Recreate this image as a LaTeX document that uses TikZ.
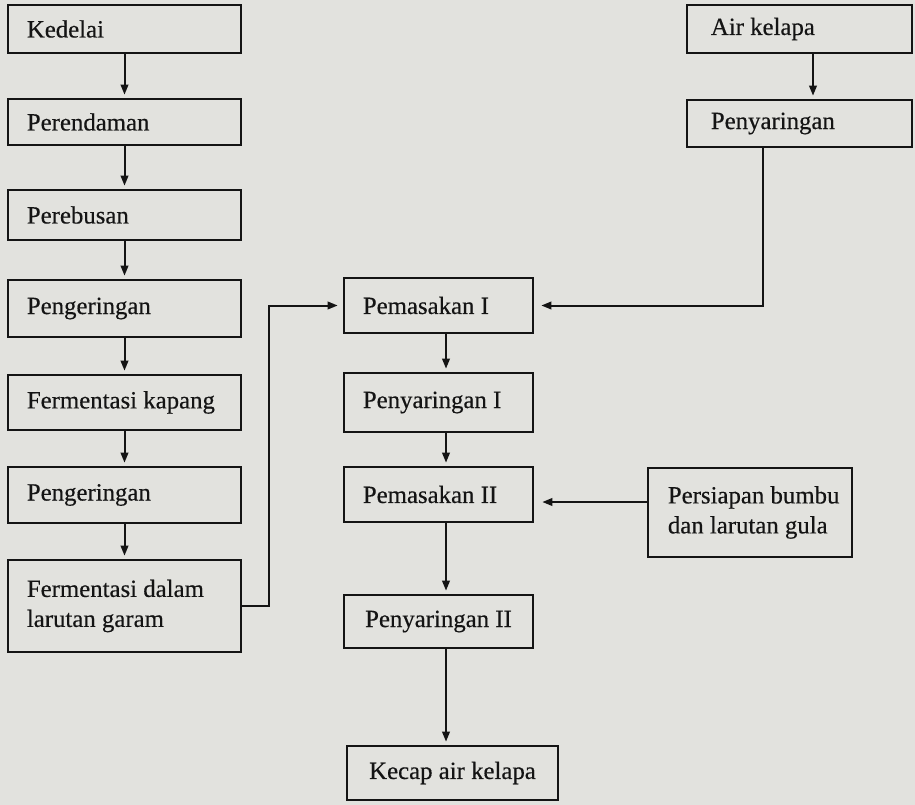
\documentclass[tikz,border=0pt]{standalone}
\usepackage{fontspec}
\setmainfont{Liberation Serif}[FakeBold=0.4]
\usetikzlibrary{arrows.meta}
\definecolor{paper}{RGB}{226,226,222}
\definecolor{ink}{RGB}{20,20,20}
\tikzset{
  box/.style={draw=ink, line width=2.6pt, inner sep=0pt},
  boxtext/.style={font=\fontsize{24.8}{30}\selectfont, text=ink, inner sep=0pt, align=left, anchor=west},
  arr/.style={draw=ink, line width=2pt, -{Triangle[length=10pt,width=7.5pt]}, shorten >=3pt},
}
% name, centre x, centre y, width, height, text inset, text
\newcommand\flowbox[7]{%
  \node[box, minimum width=#4, minimum height=#5] (#1) at (#2,#3) {};
  \node[boxtext] (#1-t) at ([xshift=#6]#1.west) {#7};
}
% name, centre x, centre y, width, height, text (centred)
\newcommand\flowboxc[6]{%
  \node[box, minimum width=#4, minimum height=#5] (#1) at (#2,#3) {};
  \node[boxtext, anchor=center, align=center] (#1-t) at (#1.center) {#6};
}
\begin{document}
\begin{tikzpicture}[x=1pt, y=-1pt]
  \fill[paper] (0,0) rectangle (915,805);
  \useasboundingbox (0,0) rectangle (915,805);

  % soy bean column
  \flowbox{kedelai}{124.5}{29}{233}{48}{20}{Kedelai}
  \flowbox{rendam}{124.5}{122}{233}{46}{20}{Perendaman}
  \flowbox{rebus}{124.5}{215}{233}{50}{20}{Perebusan}
  \flowbox{kering}{124.5}{308.5}{233}{57}{20}{Pengeringan}
  \flowbox{kapang}{124.5}{402.5}{233}{55}{20}{Fermentasi kapang}
  \flowbox{keringb}{124.5}{495}{233}{56}{20}{Pengeringan}
  \flowbox{garam}{124.5}{606}{233}{92}{20}{Fermentasi dalam\\larutan garam}

  % cooking column
  \flowbox{masak}{438.5}{305.5}{189}{55}{20}{Pemasakan I}
  \flowbox{saring}{438.5}{402.5}{189}{59}{20}{Penyaringan I}
  \flowbox{masakb}{438.5}{494.5}{189}{55}{20}{Pemasakan II}
  \flowboxc{saringb}{438.5}{621.5}{189}{53}{Penyaringan II}
  \flowboxc{kecap}{452.5}{773}{211}{54}{Kecap air kelapa}

  % coconut water column
  \flowbox{air}{799.5}{29}{225}{48}{25}{Air kelapa}
  \flowbox{saringair}{799.5}{123.5}{225}{47}{25}{Penyaringan}
  \flowbox{bumbu}{750}{512.5}{204}{89}{21}{Persiapan bumbu\\dan larutan gula}

  % connectors
  \draw[arr] (kedelai) -- (rendam);
  \draw[arr] (rendam) -- (rebus);
  \draw[arr] (rebus) -- (kering);
  \draw[arr] (kering) -- (kapang);
  \draw[arr] (kapang) -- (keringb);
  \draw[arr] (keringb) -- (garam);
  \draw[arr, shorten >=5pt] (garam.east) -- ++(27,0) |- (masak.west);

  \draw[arr] ([xshift=7.5pt]masak.south) -- ([xshift=7.5pt]masak.south |- saring.north);
  \draw[arr] ([xshift=7.5pt]saring.south) -- ([xshift=7.5pt]saring.south |- masakb.north);
  \draw[arr] ([xshift=7.5pt]masakb.south) -- ([xshift=7.5pt]masakb.south |- saringb.north);
  \draw[arr] ([xshift=7.5pt]saringb.south) -- ([xshift=7.5pt]saringb.south |- kecap.north);

  \draw[arr] ([xshift=13.5pt]air.south) -- ([xshift=13.5pt]air.south |- saringair.north);
  \draw[arr, shorten >=7pt] ([xshift=-36.5pt]saringair.south) |- (masak.east);
  \draw[arr, shorten >=8pt] ([yshift=10.5pt]bumbu.west) -- ([yshift=10.5pt]bumbu.west -| masakb.east);
\end{tikzpicture}
\end{document}
